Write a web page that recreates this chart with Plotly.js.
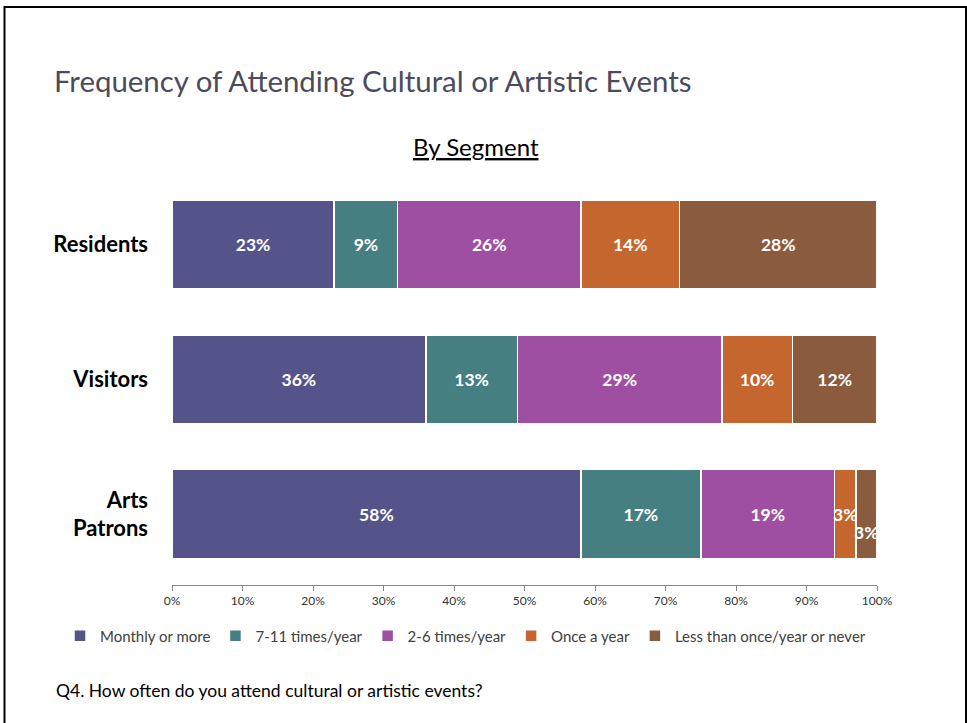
<!DOCTYPE html>
<html>
<head>
<meta charset="utf-8">
<script src="https://cdn.plot.ly/plotly-3.0.1.min.js"></script>
<style>html,body{margin:0;padding:0;background:#fff;}#chart{width:967px;height:723px;}</style>
</head>
<body>
<div id="chart"></div>
<script>
const segments = ["Residents", "Visitors", "Arts<br>Patrons"];
const seriesNames = ["Monthly or more", "7-11 times/year", "2-6 times/year", "Once a year", "Less than once/year or never"];
const monthly = [23, 36, 58];
const times7to11 = [9, 13, 17];
const times2to6 = [26, 29, 19];
const onceYear = [14, 10, 3];
const lessThanOnce = [28, 12, 3];
const seriesColors = ["#55548A", "#457F82", "#9F4FA2", "#C5662E", "#8A5C3D"];
const xTicks = [0, 10, 20, 30, 40, 50, 60, 70, 80, 90, 100];

const seriesValues = [monthly, times7to11, times2to6, onceYear, lessThanOnce];
const FONT = "Lato, 'Open Sans', sans-serif";

// Label of the last (tiny) Arts Patrons segment is placed as an offset annotation, like the original
const lastIdx = seriesValues.length - 1;
const crowdedCat = 2;

const traces = seriesValues.map((vals, i) => ({
  type: "bar",
  orientation: "h",
  name: seriesNames[i],
  y: segments,
  x: vals,
  width: 0.66,
  marker: {color: seriesColors[i], line: {color: "#ffffff", width: 1.5}},
  text: vals.map((v, j) => (i === lastIdx && j === crowdedCat) ? "" : v + "%"),
  textposition: "inside",
  insidetextanchor: "middle",
  textangle: 0,
  constraintext: "none",
  cliponaxis: false,
  textfont: {family: FONT, size: 17.5, color: "#ffffff", weight: "bold"},
  hoverinfo: "name+x"
}));

// cumulative start of the crowded segment
let start = 0;
for (let i = 0; i < lastIdx; i++) start += seriesValues[i][crowdedCat];
const lastVal = seriesValues[lastIdx][crowdedCat];

const plotL = 172, plotR = 877, plotT = 177, plotB = 585, W = 967, H = 723;
const pw = plotR - plotL, ph = plotB - plotT;
const px = x => (x - plotL) / pw;
const py = y => (plotB - y) / ph;

const layout = {
  width: W, height: H,
  margin: {l: plotL, r: W - plotR, t: plotT, b: H - plotB, pad: 0},
  paper_bgcolor: "#ffffff",
  plot_bgcolor: "#ffffff",
  barmode: "stack",
  bargap: 0.34,
  font: {family: FONT, color: "#404040"},
  title: {
    text: "Frequency of Attending Cultural or Artistic Events",
    xref: "container", yref: "container",
    x: 54 / W, xanchor: "left",
    y: 1 - 82 / H, yanchor: "middle",
    font: {family: FONT, size: 29.4, color: "#4B4B5C"}
  },
  xaxis: {
    range: [0, 100],
    tickvals: xTicks,
    ticktext: xTicks.map(v => v + "%"),
    showgrid: false, zeroline: false,
    showline: true, linecolor: "#868686", linewidth: 1,
    ticks: "outside", ticklen: 5, tickcolor: "#868686",
    tickfont: {family: FONT, size: 12, color: "#333333"},
    fixedrange: true
  },
  yaxis: {
    type: "category",
    range: [2.525, -0.5],
    showgrid: false, zeroline: false, showline: false,
    ticks: "",
    ticklabelstandoff: 23,
    tickfont: {family: FONT, size: 22, color: "#000000", weight: "bold"},
    fixedrange: true
  },
  legend: {
    orientation: "h",
    x: px(60), xanchor: "left",
    y: py(636), yanchor: "middle",
    font: {family: FONT, size: 15, color: "#404040"},
    traceorder: "normal",
    itemclick: false, itemdoubleclick: false
  },
  annotations: [
    {
      text: "<u>By Segment</u>",
      xref: "paper", yref: "paper",
      x: px(476), y: py(146),
      xanchor: "center", yanchor: "middle",
      showarrow: false,
      font: {family: FONT, size: 24, color: "#000000"}
    },
    {
      text: "Q4. How often do you attend cultural or artistic events?",
      xref: "paper", yref: "paper",
      x: px(54), y: py(690),
      xanchor: "left", yanchor: "middle",
      showarrow: false,
      font: {family: FONT, size: 17.5, color: "#000000"}
    },
    {
      text: "<b>" + lastVal + "%</b>",
      xref: "x", yref: "y",
      x: start + lastVal / 2, y: segments[crowdedCat],
      yshift: -18,
      xanchor: "center", yanchor: "middle",
      showarrow: false,
      font: {family: FONT, size: 17.5, color: "#ffffff"}
    }
  ],
  shapes: [
    {
      type: "rect", xref: "paper", yref: "paper",
      x0: px(4.5), x1: px(966), y0: py(730), y1: py(7),
      line: {color: "#000000", width: 2},
      fillcolor: "rgba(0,0,0,0)",
      layer: "below"
    }
  ]
};

Plotly.newPlot("chart", traces, layout, {displayModeBar: false, staticPlot: true});
</script>
</body>
</html>
